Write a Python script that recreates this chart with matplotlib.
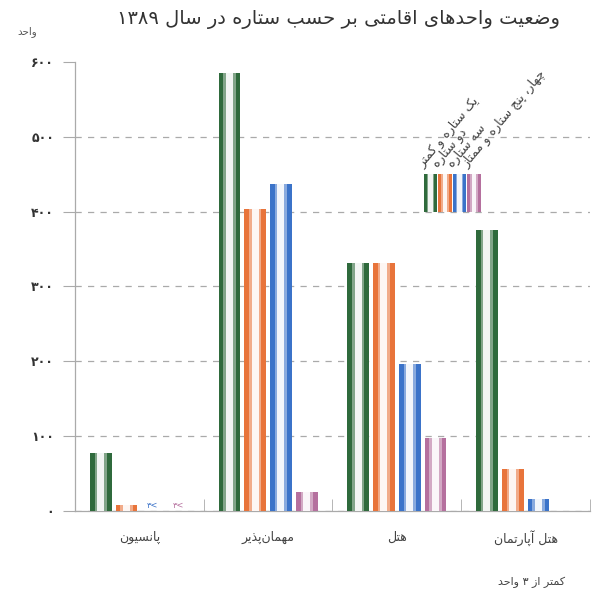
import re
import numpy as np
import matplotlib
matplotlib.use("Agg")
import matplotlib.pyplot as plt

plt.rcParams['font.family'] = ['DejaVu Sans']

# data
categories = ["پانسیون", "مهمان\u200cپذیر", "هتل", "هتل آپارتمان"]
series = ["یک ستاره و کمتر", "دو ستاره", "سه ستاره", "چهار، پنج ستاره و ممتاز"]
one_star = [78, 585, 332, 375]
two_star = [8, 403, 332, 56]
three_star = [2, 437, 197, 16]
four_five = [2, 25, 97, 0]
yticks = [0, 100, 200, 300, 400, 500, 600]
colors = ["#2f6a3c", "#e8743b", "#3b73c9", "#b5709e"]

title = "وضعیت واحدهای اقامتی بر حسب ستاره در سال ۱۳۸۹"
unit = "واحد"
note = "کمتر از ۳ واحد"

# tiny arabic shaper (no arabic_reshaper available)
DUAL = {'ب': 0xFE8F, 'پ': 0xFB56, 'ت': 0xFE95, 'ث': 0xFE99, 'ج': 0xFE9D, 'چ': 0xFB7A,
        'ح': 0xFEA1, 'خ': 0xFEA5, 'س': 0xFEB1, 'ش': 0xFEB5, 'ص': 0xFEB9, 'ض': 0xFEBD,
        'ط': 0xFEC1, 'ظ': 0xFEC5, 'ع': 0xFEC9, 'غ': 0xFECD, 'ف': 0xFED1, 'ق': 0xFED5,
        'ک': 0xFB8E, 'گ': 0xFB92, 'ل': 0xFEDD, 'م': 0xFEE1, 'ن': 0xFEE5, 'ه': 0xFEE9,
        'ی': 0xFBFC}
RIGHT = {'ا': 0xFE8D, 'آ': 0xFE81, 'د': 0xFEA9, 'ذ': 0xFEAB, 'ر': 0xFEAD, 'ز': 0xFEAF,
         'ژ': 0xFB8A, 'و': 0xFEED}


def fa(s):
    out = []
    for i, c in enumerate(s):
        if c not in DUAL and c not in RIGHT:
            if c != '\u200c':
                out.append(c)
            continue
        prev = s[i - 1] if i > 0 else ''
        nxt = s[i + 1] if i + 1 < len(s) else ''
        jp = prev in DUAL
        jn = c in DUAL and (nxt in DUAL or nxt in RIGHT)
        base = DUAL.get(c, RIGHT.get(c))
        f = 3 if (jp and jn) else 1 if jp else 2 if jn else 0
        out.append(chr(base + f))
    toks = re.findall(r'[۰-۹0-9]+|.', ''.join(out))
    return ''.join(reversed(toks))


def fa_num(n):
    return str(n).translate(str.maketrans("0123456789", "۰۱۲۳۴۵۶۷۸۹"))


def striped_bar(ax, x, h, w, color, bottom=0):
    ax.bar(x, h, w, bottom=bottom, color=color, zorder=3)
    ax.bar(x, h, w * 0.55, bottom=bottom, color="white", alpha=0.4, zorder=4)
    ax.bar(x, h, w * 0.32, bottom=bottom, color="white", alpha=0.9, zorder=5)


fig = plt.figure(figsize=(5.98, 6.13), dpi=100)
ax = fig.add_axes([0.1254, 0.1664, 0.8612, 0.7325])

x = np.arange(len(categories))
w = 0.17
offsets = [-0.3, -0.1, 0.1, 0.3]
all_vals = [one_star, two_star, three_star, four_five]
for vals, off, col in zip(all_vals, offsets, colors):
    for xi, v in zip(x, vals):
        if v <= 3:
            if v > 0:
                ax.text(xi + off, 1, fa("<" + fa_num(3)), color=col, fontsize=6,
                        ha="center", va="bottom", zorder=6)
            continue
        striped_bar(ax, xi + off, v, w, col)

ax.set_xlim(-0.5, 3.5)
ax.set_ylim(0, 600)
ax.set_yticks(yticks)
ax.set_yticklabels([fa_num(t) for t in yticks], fontsize=9, color="#333333", fontweight="bold")
ax.set_xticks(x)
ax.set_xticklabels([fa(c) for c in categories], fontsize=9, color="#444444")
ax.tick_params(axis="x", length=0, pad=14)
ax.set_xticks(x + 0.5, minor=True)
ax.tick_params(axis="x", which="minor", direction="in", length=9, color="#aaaaaa")
ax.tick_params(axis="y", length=9, color="#aaaaaa", pad=6)
for s in ["top", "right"]:
    ax.spines[s].set_visible(False)
for s in ["left", "bottom"]:
    ax.spines[s].set_color("#aaaaaa")
    ax.spines[s].set_linewidth(0.9)
ax.yaxis.grid(True, linestyle=(0, (5, 5)), color="#aaaaaa", linewidth=0.9, zorder=0)
ax.set_axisbelow(True)
ax.get_ygridlines()[-1].set_visible(False)

# legend: four small striped swatches with slanted labels
lx0, lstep, lw = 2.26, 0.113, 0.105
for i, (lab, col) in enumerate(zip(series, colors)):
    lx = lx0 + i * lstep
    striped_bar(ax, lx, 50, lw, col, bottom=400)
    ax.text(lx - 0.035, 455, fa(lab), rotation=50, rotation_mode="anchor",
            ha="left", va="bottom", fontsize=9, color="#444444")

fig.text(0.566, 0.968, fa(title), ha="center", va="center", fontsize=14, color="#333333")
fig.text(0.045, 0.948, fa(unit), ha="center", va="center", fontsize=7.5, color="#555555")
fig.text(0.945, 0.050, fa(note), ha="right", va="center", fontsize=8, color="#444444")

fig.savefig("out.png", dpi=100)
